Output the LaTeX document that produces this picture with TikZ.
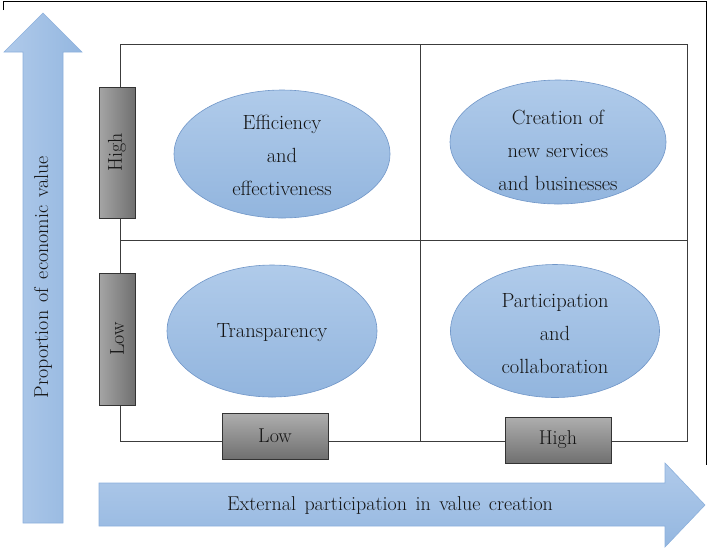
\documentclass[tikz,border=0pt]{standalone}
\usetikzlibrary{shapes.geometric}
\definecolor{arrowlight}{RGB}{176,202,234}
\definecolor{arrowdark}{RGB}{148,183,224}
\definecolor{arrowedge}{RGB}{140,176,220}
\definecolor{elltop}{RGB}{176,203,234}
\definecolor{ellbot}{RGB}{146,181,222}
\definecolor{elledge}{RGB}{112,150,200}
\definecolor{boxlight}{RGB}{165,165,165}
\definecolor{boxdark}{RGB}{112,112,112}
\definecolor{txt}{RGB}{20,20,20}
\definecolor{framec}{RGB}{60,60,60}
\newcommand{\wgap}{\hspace{8.5pt}}
\tikzset{
  framel/.style={draw=framec, line width=0.9pt},
  bluearrow/.style={draw=arrowedge, line width=0.6pt},
  ellbox/.style={ellipse, draw=elledge, line width=0.6pt, top color=elltop, bottom color=ellbot, inner sep=0pt},
  ellt/.style={text=txt, align=center, font=\fontsize{20.5}{33}\selectfont},
  vbox/.style={draw=black!80, line width=0.8pt, left color=boxlight, right color=boxdark, minimum width=36pt, minimum height=131pt, inner sep=0pt},
  hbox/.style={draw=black!80, line width=0.8pt, top color=boxlight!90!white, bottom color=boxdark, minimum width=106pt, minimum height=46pt, inner sep=0pt},
  lab/.style={text=txt, font=\fontsize{20}{24}\selectfont},
}
\begin{document}
\begin{tikzpicture}[x=1pt,y=-1pt]
\useasboundingbox (0,0) rectangle (708,547);
% page frame
\draw[black, line width=1pt] (3.5,10) -- (3.5,1) -- (706.5,1) -- (706.5,465);
% vertical arrow
\shade[left color=arrowlight, right color=arrowdark] (23,523) -- (23,52) -- (4,52) -- (43,13) -- (82,52) -- (63,52) -- (63,523) -- cycle;
\draw[bluearrow] (23,523) -- (23,52) -- (4,52) -- (43,13) -- (82,52) -- (63,52) -- (63,523) -- cycle;
\node[lab, rotate=90] (ylab) at (43,277) {Proportion\wgap of\wgap economic\wgap value};
% horizontal arrow
\shade[top color=arrowlight, bottom color=arrowdark] (99,483) -- (665,483) -- (665,463) -- (705,505) -- (665,547) -- (665,526) -- (99,526) -- cycle;
\draw[bluearrow] (99,483) -- (665,483) -- (665,463) -- (705,505) -- (665,547) -- (665,526) -- (99,526) -- cycle;
\node[lab] (xlab) at (390,505) {External\wgap participation\wgap in\wgap value\wgap creation};
% quadrant frame
\coordinate (tl) at (120,44);
\coordinate (tm) at (420,44);
\coordinate (tr) at (687,44);
\coordinate (ml) at (120,240);
\coordinate (mr) at (687,240);
\coordinate (bl) at (120,441);
\coordinate (bm) at (420,441);
\coordinate (br) at (687,441);
\draw[framel] (tl) -- (tr) -- (br) -- (bl) -- cycle;
\draw[framel] (ml) -- (mr);
\draw[framel] (tm) -- (bm);
% ellipses
\node[ellbox, minimum width=216pt, minimum height=128pt] (e1) at (282,154) {};
\node[ellt] (t1) at (282,155) {Efficiency\\and\\effectiveness};
\node[ellbox, minimum width=216pt, minimum height=124pt] (e2) at (558,142) {};
\node[ellt] (t2) at (558,150) {Creation of\\new services\\and businesses};
\node[ellbox, minimum width=210pt, minimum height=132pt] (e3) at (272,331) {};
\node[ellt] (t3) at (272,333) {Transparency};
\node[ellbox, minimum width=209pt, minimum height=133pt] (e4) at (555,331) {};
\node[ellt] (t4) at (555,334) {Participation\\and\\collaboration};
% gray boxes
\node[vbox] (hiy) at (117,152.5) {};
\node[lab, rotate=90] (hiyt) at (hiy.center) {High};
\node[vbox, minimum height=132pt] (loy) at (117,339) {};
\node[lab, rotate=90] (loyt) at (loy.center) {Low};
\node[hbox] (lox) at (275,436) {};
\node[lab] (loxt) at (lox.center) {Low};
\node[hbox] (hix) at (558,440) {};
\node[lab] (hixt) at (hix.center) {High};
\end{tikzpicture}
\end{document}
